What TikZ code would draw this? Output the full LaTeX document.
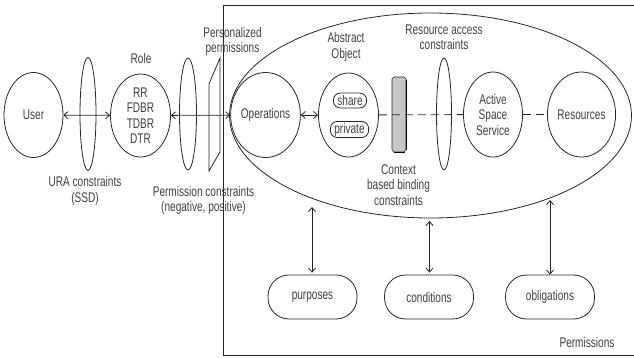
\documentclass[tikz,border=0pt]{standalone}
\usepackage{fontspec}
\setmainfont{Liberation Sans}[FakeStretch=0.72]
\usetikzlibrary{shapes.geometric,arrows.meta}

\begin{document}
\begin{tikzpicture}[x=1pt,y=-1pt,
  font=\fontsize{14}{15.5}\selectfont,
  line width=0.8pt, draw=black!85, text=black!75,
  oval/.style={draw, ellipse, inner sep=0pt, minimum width=59pt, minimum height=85pt, align=center},
  slim/.style={draw, ellipse, inner sep=0pt},
  pill/.style={draw, rounded corners=21pt, minimum width=89pt, minimum height=44pt},
  tag/.style={draw, rounded corners=7pt, inner xsep=4pt, inner ysep=1.5pt, minimum height=15pt},
  lbl/.style={align=center, inner sep=0pt},
  dbl/.style={{Straight Barb[length=4pt,width=7pt]}-{Straight Barb[length=4pt,width=7pt]}},
  dashline/.style={dash pattern=on 8pt off 5pt}]

\useasboundingbox (0,0) rectangle (634,358);

% permissions frame (open on the right)
\draw (634,5.5) -| (223,355) -- (634,355);
\node[lbl] (permlbl) at (587,342) {Permissions};

% large scope ellipse inside the frame
\node[draw, ellipse, inner sep=0pt, minimum width=402pt, minimum height=205pt] (scope) at (430.5,115.5) {};

% user and role
\node[oval] (user) at (33.5,115) {User};
\node[slim, minimum width=16pt, minimum height=113pt] (ura) at (88,114) {};
\node[lbl] (uralbl) at (85,191) {URA constraints\\(SSD)};
\node[oval, minimum width=60pt, minimum height=83pt] (role) at (140.5,115.5) {RR\\FDBR\\TDBR\\DTR};
\node[lbl] (rolelbl) at (141,58) {Role};

% permission constraints and personalized permissions
\node[slim, minimum width=17pt, minimum height=112pt] (pc) at (188,114) {};
\node[lbl] (pclbl) at (203.5,200.5) {Permission constraints\\(negative, positive)};
\draw (220,58) -- (209,84) -- (209,171) -- (220,152) -- cycle;
\node[lbl] (pplbl) at (232.5,41.5) {Personalized\\permissions};

% operations and abstract object
\node[oval] (ops) at (265.5,115) {Operations};
\node[oval, minimum width=60pt, minimum height=84pt] (abs) at (348.5,115) {};
\node[tag] (share) at (350,100.5) {share};
\node[tag] (priv) at (349.5,129.5) {private};
\node[lbl] (abslbl) at (346,47) {Abstract\\Object};

% context based binding bar
\fill[gray!45] (392,79) -- (394,77) -- (404,77) -- (406,79) -- (406,150) -- (404,152) -- (394,152) -- (392,150) -- cycle;
\draw[line width=0.6pt] (392,79) -- (394,77) -- (404,77) -- (406,79) -- (406,150) -- (404,152) -- (394,152) -- (392,150) -- cycle;
\draw[line width=1.6pt, black] (406.5,80) -- (406.5,150);
\draw[line width=1.6pt, black] (394,152.5) -- (405,152.5);
\node[lbl] (cblbl) at (398.5,185) {Context\\based binding\\constraints};

% resource access constraints, service and resources
\node[slim, minimum width=15pt, minimum height=112pt] (rac) at (444,114) {};
\node[lbl] (raclbl) at (444,37.5) {Resource access\\constraints};
\node[oval] (ass) at (493,114.5) {Active\\Space\\Service};
\node[oval] (res) at (581.5,114.5) {Resources};

% bottom attributes
\node[pill] (purp) at (312.5,297) {purposes};
\node[pill] (cond) at (429,297) {conditions};
\node[pill] (obl) at (550,297) {obligations};

% connectors
\draw[dbl] (user) -- (role);
\draw[dbl] (role) -- (ops);
\draw[dbl] (ops) -- (abs);
\draw[dashline] (abs) -- (ass);
\draw[dashline] (ass) -- (res);

\coordinate (pt) at (312,207);
\coordinate (ct) at (429.5,221);
\coordinate (ot) at (550,200);
\draw[dbl, shorten >=2pt] (pt) -- (pt |- purp.north);
\draw[dbl, shorten >=2pt] (ct) -- (ct |- cond.north);
\draw[dbl] (ot) -- (ot |- obl.north);
\end{tikzpicture}
\end{document}
